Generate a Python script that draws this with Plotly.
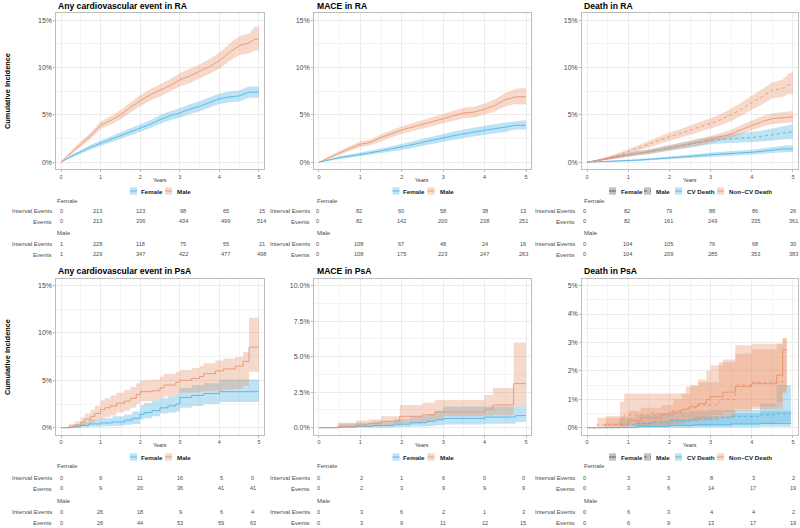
import plotly.graph_objects as go

# ---------------- data (cumulative incidence in %) ----------------
T_RA = [0, 0.25, 0.5, 0.75, 1, 1.25, 1.5, 1.75, 2, 2.25, 2.5, 2.75, 3, 3.25, 3.5, 3.75, 4, 4.25, 4.5, 4.75, 4.9, 5]

# Any cardiovascular event in RA
RA_ANY_M_EST = [0, 1.0, 1.9, 2.8, 3.9, 4.4, 5.0, 5.8, 6.5, 7.1, 7.6, 8.1, 8.7, 9.1, 9.6, 10.1, 10.7, 11.6, 12.3, 12.6, 13.0, 13.0]
RA_ANY_M_LO = [0, 0.8, 1.6, 2.45, 3.5, 3.95, 4.5, 5.25, 5.9, 6.5, 6.95, 7.45, 8.0, 8.35, 8.85, 9.3, 9.85, 10.7, 11.3, 11.5, 11.8, 11.8]
RA_ANY_M_HI = [0, 1.2, 2.2, 3.15, 4.3, 4.85, 5.5, 6.35, 7.1, 7.7, 8.25, 8.75, 9.4, 9.85, 10.35, 10.9, 11.55, 12.5, 13.3, 13.6, 14.3, 14.3]
RA_ANY_F_EST = [0, 0.6, 1.1, 1.6, 2.0, 2.4, 2.8, 3.2, 3.6, 4.0, 4.5, 4.9, 5.2, 5.6, 5.9, 6.3, 6.7, 6.9, 7.0, 7.4, 7.4, 7.4]
RA_ANY_F_LO = [0, 0.45, 0.9, 1.35, 1.7, 2.08, 2.45, 2.83, 3.2, 3.58, 4.05, 4.43, 4.7, 5.08, 5.37, 5.75, 6.15, 6.33, 6.42, 6.8, 6.8, 6.8]
RA_ANY_F_HI = [0, 0.75, 1.3, 1.85, 2.3, 2.72, 3.15, 3.57, 4.0, 4.42, 4.95, 5.37, 5.7, 6.12, 6.43, 6.85, 7.25, 7.47, 7.58, 8.0, 8.0, 8.0]

# MACE in RA
RA_MACE_M_EST = [0, 0.5, 1.0, 1.45, 1.9, 2.1, 2.6, 3.0, 3.4, 3.7, 4.0, 4.3, 4.6, 4.9, 5.2, 5.3, 5.6, 6.0, 6.6, 6.9, 6.9, 6.9]
RA_MACE_M_LO = [0, 0.35, 0.8, 1.2, 1.6, 1.8, 2.25, 2.62, 3.0, 3.28, 3.55, 3.83, 4.1, 4.37, 4.65, 4.73, 5.0, 5.35, 5.9, 6.15, 6.1, 6.1]
RA_MACE_M_HI = [0, 0.65, 1.2, 1.7, 2.2, 2.4, 2.95, 3.38, 3.8, 4.12, 4.45, 4.77, 5.1, 5.43, 5.75, 5.87, 6.2, 6.65, 7.3, 7.75, 7.85, 7.85]
RA_MACE_F_EST = [0, 0.25, 0.5, 0.65, 0.8, 1.0, 1.2, 1.4, 1.6, 1.85, 2.1, 2.35, 2.6, 2.8, 3.0, 3.2, 3.4, 3.55, 3.7, 3.9, 3.9, 3.9]
RA_MACE_F_LO = [0, 0.15, 0.35, 0.48, 0.6, 0.77, 0.95, 1.12, 1.3, 1.52, 1.75, 1.97, 2.2, 2.37, 2.55, 2.73, 2.93, 3.06, 3.2, 3.45, 3.45, 3.45]
RA_MACE_F_HI = [0, 0.35, 0.65, 0.82, 1.0, 1.23, 1.45, 1.68, 1.9, 2.18, 2.45, 2.73, 3.0, 3.23, 3.45, 3.67, 3.87, 4.04, 4.2, 4.35, 4.4, 4.4]

# Death in RA
RA_NCV_M_EST = [0, 0.2, 0.4, 0.75, 1.1, 1.5, 1.9, 2.3, 2.7, 3.0, 3.4, 3.75, 4.1, 4.5, 5.0, 5.6, 6.3, 6.9, 7.6, 7.8, 8.2, 8.2]
RA_NCV_M_LO = [0, 0.1, 0.25, 0.55, 0.85, 1.2, 1.55, 1.92, 2.27, 2.55, 2.9, 3.22, 3.55, 3.9, 4.35, 4.9, 5.55, 6.1, 6.75, 6.9, 7.2, 7.2]
RA_NCV_M_HI = [0, 0.3, 0.55, 0.95, 1.35, 1.8, 2.25, 2.68, 3.13, 3.45, 3.9, 4.28, 4.65, 5.1, 5.65, 6.3, 7.05, 7.7, 8.45, 8.7, 9.4, 9.5]
RA_NCV_F_EST = [0, 0.2, 0.4, 0.6, 0.8, 0.95, 1.1, 1.3, 1.5, 1.7, 1.9, 2.15, 2.4, 2.7, 3.0, 3.45, 3.9, 4.3, 4.6, 4.7, 4.8, 4.8]
RA_NCV_F_LO = [0, 0.1, 0.25, 0.42, 0.6, 0.73, 0.86, 1.04, 1.22, 1.4, 1.58, 1.8, 2.03, 2.3, 2.57, 2.98, 3.4, 3.75, 4.03, 4.12, 4.2, 4.2]
RA_NCV_F_HI = [0, 0.3, 0.55, 0.78, 1.0, 1.17, 1.34, 1.56, 1.78, 2.0, 2.22, 2.5, 2.77, 3.1, 3.43, 3.92, 4.4, 4.85, 5.17, 5.3, 5.4, 5.4]
RA_CV_M_EST = [0, 0.2, 0.4, 0.6, 0.8, 0.95, 1.1, 1.3, 1.5, 1.7, 1.9, 2.1, 2.3, 2.4, 2.5, 2.55, 2.6, 2.75, 2.9, 3.1, 3.2, 3.2]
RA_CV_M_LO = [0, 0.1, 0.25, 0.42, 0.6, 0.73, 0.86, 1.04, 1.22, 1.4, 1.57, 1.74, 1.9, 1.98, 2.05, 2.08, 2.1, 2.2, 2.3, 2.45, 2.5, 2.5]
RA_CV_M_HI = [0, 0.3, 0.55, 0.78, 1.0, 1.17, 1.34, 1.56, 1.78, 2.0, 2.23, 2.46, 2.7, 2.82, 2.95, 3.05, 3.15, 3.35, 3.55, 3.8, 3.95, 4.0]
RA_CV_F_EST = [0, 0.03, 0.07, 0.1, 0.15, 0.22, 0.3, 0.37, 0.45, 0.52, 0.6, 0.7, 0.8, 0.85, 0.9, 0.97, 1.05, 1.15, 1.3, 1.4, 1.4, 1.4]
RA_CV_F_LO = [0, 0.0, 0.02, 0.04, 0.07, 0.12, 0.18, 0.24, 0.3, 0.36, 0.42, 0.5, 0.58, 0.62, 0.66, 0.72, 0.78, 0.86, 0.98, 1.07, 1.07, 1.07]
RA_CV_F_HI = [0, 0.07, 0.12, 0.17, 0.23, 0.32, 0.42, 0.5, 0.6, 0.68, 0.78, 0.9, 1.02, 1.08, 1.14, 1.22, 1.32, 1.45, 1.62, 1.75, 1.78, 1.8]

# Any cardiovascular event in PsA (step functions)
PSA_ANY_M_T = [0, 0.2, 0.35, 0.5, 0.6, 0.75, 0.85, 1.0, 1.1, 1.25, 1.4, 1.6, 1.75, 1.9, 2.0, 2.3, 2.5, 2.6, 2.9, 3.0, 3.3, 3.5, 3.6, 3.9, 4.1, 4.4, 4.6, 4.75, 5.0]
PSA_ANY_M_EST = [0, 0.15, 0.3, 0.6, 0.9, 1.2, 1.5, 1.9, 2.1, 2.3, 2.6, 2.8, 3.1, 3.5, 3.8, 3.9, 4.2, 4.5, 4.8, 5.0, 5.2, 5.4, 5.7, 6.0, 6.2, 6.5, 7.0, 8.5, 8.5]
PSA_ANY_M_LO = [0, 0.0, 0.05, 0.2, 0.35, 0.55, 0.75, 0.95, 1.1, 1.3, 1.6, 1.8, 2.1, 2.5, 2.8, 2.9, 3.1, 3.3, 3.5, 3.7, 3.75, 3.8, 3.85, 3.9, 4.0, 4.1, 4.4, 5.9, 5.9]
PSA_ANY_M_HI = [0, 0.4, 0.65, 1.1, 1.5, 1.9, 2.3, 2.9, 3.1, 3.4, 3.7, 4.0, 4.3, 4.7, 5.0, 5.1, 5.4, 5.7, 5.9, 6.1, 6.3, 6.5, 6.8, 7.1, 7.3, 7.5, 8.0, 11.6, 11.6]
PSA_ANY_F_T = [0, 0.3, 0.5, 0.7, 1.0, 1.3, 1.6, 1.8, 2.0, 2.1, 2.3, 2.5, 2.7, 2.9, 3.0, 3.3, 3.6, 4.0, 5.0]
PSA_ANY_F_EST = [0, 0.1, 0.25, 0.4, 0.5, 0.6, 0.8, 1.0, 1.4, 1.6, 1.8, 2.1, 2.3, 2.5, 3.2, 3.4, 3.6, 3.8, 3.8]
PSA_ANY_F_LO = [0, 0.0, 0.05, 0.1, 0.15, 0.2, 0.3, 0.4, 0.9, 1.0, 1.2, 1.5, 1.6, 1.7, 2.1, 2.3, 2.5, 2.7, 2.7]
PSA_ANY_F_HI = [0, 0.3, 0.6, 0.85, 1.0, 1.2, 1.4, 1.7, 2.4, 2.6, 2.9, 3.1, 3.3, 3.5, 4.2, 4.5, 4.7, 5.1, 5.1]

# MACE in PsA
PSA_MACE_M_T = [0, 0.45, 0.9, 1.2, 1.5, 1.95, 2.5, 2.8, 3.0, 3.9, 4.0, 4.2, 4.7, 5.0]
PSA_MACE_M_EST = [0, 0.1, 0.2, 0.3, 0.45, 0.8, 0.9, 1.1, 1.1, 1.1, 1.3, 1.6, 3.1, 3.1]
PSA_MACE_M_LO = [0, 0.01, 0.05, 0.08, 0.15, 0.3, 0.4, 0.55, 0.8, 0.8, 0.85, 0.9, 1.5, 1.5]
PSA_MACE_M_HI = [0, 0.35, 0.5, 0.6, 0.8, 1.6, 1.75, 1.95, 1.95, 1.95, 2.3, 2.8, 6.0, 6.0]
PSA_MACE_F_T = [0, 0.5, 0.9, 1.3, 1.8, 2.2, 2.6, 2.8, 3.0, 4.0, 4.75, 5.0]
PSA_MACE_F_EST = [0, 0.05, 0.1, 0.15, 0.25, 0.35, 0.45, 0.55, 0.65, 0.75, 0.85, 0.85]
PSA_MACE_F_LO = [0, 0.0, 0.01, 0.02, 0.05, 0.08, 0.12, 0.17, 0.22, 0.28, 0.4, 0.4]
PSA_MACE_F_HI = [0, 0.3, 0.35, 0.45, 0.6, 0.8, 0.95, 1.2, 1.5, 1.5, 1.5, 1.5]

# Death in PsA
PSA_NCV_M_T = [0, 0.25, 0.8, 0.9, 1.5, 2.0, 2.4, 2.7, 3.2, 3.6, 4.0, 4.6, 4.75, 4.85]
PSA_NCV_M_EST = [0, 0.1, 0.3, 0.45, 0.5, 0.6, 0.7, 0.8, 1.0, 1.5, 1.6, 1.6, 2.65, 2.65]
PSA_NCV_M_LO = [0, 0.0, 0.04, 0.08, 0.1, 0.15, 0.2, 0.25, 0.35, 0.6, 0.65, 0.65, 1.2, 1.2]
PSA_NCV_M_HI = [0, 0.35, 0.9, 1.2, 1.2, 1.2, 1.45, 1.6, 2.3, 2.9, 2.95, 2.95, 3.15, 3.15]
PSA_NCV_F_T = [0, 0.45, 1.0, 1.3, 1.8, 2.1, 2.3, 2.5, 2.7, 2.9, 3.0, 3.3, 3.6, 4.0, 4.6, 4.75, 4.85]
PSA_NCV_F_EST = [0, 0.12, 0.25, 0.35, 0.45, 0.55, 0.65, 0.75, 0.85, 1.0, 1.1, 1.25, 1.45, 1.55, 1.85, 2.75, 2.75]
PSA_NCV_F_LO = [0, 0.0, 0.03, 0.06, 0.1, 0.15, 0.2, 0.25, 0.3, 0.38, 0.45, 0.55, 0.65, 0.75, 0.9, 1.3, 1.3]
PSA_NCV_F_HI = [0, 0.4, 0.6, 0.7, 0.8, 1.0, 1.2, 1.5, 1.7, 2.0, 2.2, 2.4, 2.6, 2.75, 2.95, 3.15, 3.15]
PSA_CV_M_T = [0, 0.8, 1.2, 1.6, 2.0, 2.5, 3.0, 3.5, 4.2, 4.6, 4.95]
PSA_CV_M_EST = [0, 0.1, 0.15, 0.2, 0.25, 0.3, 0.35, 0.4, 0.45, 0.5, 0.5]
PSA_CV_M_LO = [0, 0.0, 0.02, 0.03, 0.05, 0.07, 0.1, 0.12, 0.15, 0.18, 0.18]
PSA_CV_M_HI = [0, 0.35, 0.45, 0.5, 0.55, 0.6, 0.62, 0.62, 0.85, 1.5, 1.5]
PSA_CV_F_T = [0, 1.2, 2.0, 2.6, 3.5, 4.2, 4.95]
PSA_CV_F_EST = [0, 0.05, 0.08, 0.1, 0.13, 0.15, 0.15]
PSA_CV_F_LO = [0, 0.0, 0.0, 0.01, 0.02, 0.03, 0.03]
PSA_CV_F_HI = [0, 0.2, 0.3, 0.4, 0.5, 0.6, 0.6]

# Risk-table counts
RA_ANY_F_INT = [0, 213, 123, 98, 65, 15]
RA_ANY_F_EV = [0, 213, 336, 434, 499, 514]
RA_ANY_M_INT = [1, 228, 118, 75, 55, 21]
RA_ANY_M_EV = [1, 229, 347, 422, 477, 498]
RA_MACE_F_INT = [0, 82, 60, 58, 38, 13]
RA_MACE_F_EV = [0, 82, 142, 200, 238, 251]
RA_MACE_M_INT = [0, 108, 67, 48, 24, 16]
RA_MACE_M_EV = [0, 108, 175, 223, 247, 263]
RA_DEATH_F_INT = [0, 82, 79, 88, 86, 26]
RA_DEATH_F_EV = [0, 82, 161, 249, 335, 361]
RA_DEATH_M_INT = [0, 104, 105, 76, 68, 30]
RA_DEATH_M_EV = [0, 104, 209, 285, 353, 383]
PSA_ANY_F_INT = [0, 9, 11, 16, 5, 0]
PSA_ANY_F_EV = [0, 9, 20, 36, 41, 41]
PSA_ANY_M_INT = [0, 26, 18, 9, 6, 4]
PSA_ANY_M_EV = [0, 26, 44, 53, 59, 63]
PSA_MACE_F_INT = [0, 2, 1, 6, 0, 0]
PSA_MACE_F_EV = [0, 2, 3, 9, 9, 9]
PSA_MACE_M_INT = [0, 3, 6, 2, 1, 3]
PSA_MACE_M_EV = [0, 3, 9, 11, 12, 15]
PSA_DEATH_F_INT = [0, 3, 3, 8, 3, 2]
PSA_DEATH_F_EV = [0, 3, 6, 14, 17, 19]
PSA_DEATH_M_INT = [0, 6, 3, 4, 4, 2]
PSA_DEATH_M_EV = [0, 6, 9, 13, 17, 19]

TITLES = ["Any cardiovascular event in RA", "MACE in RA", "Death in RA",
          "Any cardiovascular event in PsA", "MACE in PsA", "Death in PsA"]
YEAR_TICKS = [0, 1, 2, 3, 4, 5]

# ---------------- style ----------------
W, H = 800, 528
FONT = "Liberation Sans, Arial, Helvetica, sans-serif"
BLUE = "#55B5E3"
BLUE_FILL = "rgba(85,181,227,0.38)"
ORANGE = "#E9956F"
ORANGE_FILL = "rgba(233,149,111,0.36)"
GRAY_FILL = "rgba(120,120,120,0.45)"
GRID = "#EBEBEB"
MINOR = "#F4F4F4"
BORDER = "#BDBDBD"
TXT = "#4D4D4D"


def px(x):
    return x / W


def py(y):
    return 1 - y / H


fig = go.Figure()


def ax_names(i):
    return ("x" if i == 1 else f"x{i}"), ("y" if i == 1 else f"y{i}")


def add_ribbon(i, t, lo, hi, fill, shape):
    xa, ya = ax_names(i)
    fig.add_trace(go.Scatter(x=t, y=lo, mode="lines", line=dict(width=0, shape=shape),
                             xaxis=xa, yaxis=ya, showlegend=False, hoverinfo="skip"))
    fig.add_trace(go.Scatter(x=t, y=hi, mode="lines", line=dict(width=0, shape=shape),
                             fill="tonexty", fillcolor=fill,
                             xaxis=xa, yaxis=ya, showlegend=False, hoverinfo="skip"))


def add_line(i, t, est, color, dash, shape):
    xa, ya = ax_names(i)
    fig.add_trace(go.Scatter(x=t, y=est, mode="lines",
                             line=dict(color=color, width=0.9, dash=dash, shape=shape),
                             xaxis=xa, yaxis=ya, showlegend=False, hoverinfo="skip"))


# Panel 1: Any CV RA
add_ribbon(1, T_RA, RA_ANY_F_LO, RA_ANY_F_HI, BLUE_FILL, "linear")
add_ribbon(1, T_RA, RA_ANY_M_LO, RA_ANY_M_HI, ORANGE_FILL, "linear")
add_line(1, T_RA, RA_ANY_F_EST, BLUE, "solid", "linear")
add_line(1, T_RA, RA_ANY_M_EST, ORANGE, "solid", "linear")
# Panel 2: MACE RA
add_ribbon(2, T_RA, RA_MACE_F_LO, RA_MACE_F_HI, BLUE_FILL, "linear")
add_ribbon(2, T_RA, RA_MACE_M_LO, RA_MACE_M_HI, ORANGE_FILL, "linear")
add_line(2, T_RA, RA_MACE_F_EST, BLUE, "solid", "linear")
add_line(2, T_RA, RA_MACE_M_EST, ORANGE, "solid", "linear")
# Panel 3: Death RA
add_ribbon(3, T_RA, RA_CV_F_LO, RA_CV_F_HI, BLUE_FILL, "linear")
add_ribbon(3, T_RA, RA_CV_M_LO, RA_CV_M_HI, BLUE_FILL, "linear")
add_ribbon(3, T_RA, RA_NCV_F_LO, RA_NCV_F_HI, ORANGE_FILL, "linear")
add_ribbon(3, T_RA, RA_NCV_M_LO, RA_NCV_M_HI, ORANGE_FILL, "linear")
add_line(3, T_RA, RA_CV_F_EST, BLUE, "solid", "linear")
add_line(3, T_RA, RA_CV_M_EST, BLUE, "dot", "linear")
add_line(3, T_RA, RA_NCV_F_EST, ORANGE, "solid", "linear")
add_line(3, T_RA, RA_NCV_M_EST, ORANGE, "dot", "linear")
# Panel 4: Any CV PsA
add_ribbon(4, PSA_ANY_F_T, PSA_ANY_F_LO, PSA_ANY_F_HI, BLUE_FILL, "hv")
add_ribbon(4, PSA_ANY_M_T, PSA_ANY_M_LO, PSA_ANY_M_HI, ORANGE_FILL, "hv")
add_line(4, PSA_ANY_F_T, PSA_ANY_F_EST, BLUE, "solid", "hv")
add_line(4, PSA_ANY_M_T, PSA_ANY_M_EST, ORANGE, "solid", "hv")
# Panel 5: MACE PsA
add_ribbon(5, PSA_MACE_F_T, PSA_MACE_F_LO, PSA_MACE_F_HI, BLUE_FILL, "hv")
add_ribbon(5, PSA_MACE_M_T, PSA_MACE_M_LO, PSA_MACE_M_HI, ORANGE_FILL, "hv")
add_line(5, PSA_MACE_F_T, PSA_MACE_F_EST, BLUE, "solid", "hv")
add_line(5, PSA_MACE_M_T, PSA_MACE_M_EST, ORANGE, "solid", "hv")
# Panel 6: Death PsA
add_ribbon(6, PSA_CV_F_T, PSA_CV_F_LO, PSA_CV_F_HI, BLUE_FILL, "hv")
add_ribbon(6, PSA_CV_M_T, PSA_CV_M_LO, PSA_CV_M_HI, BLUE_FILL, "hv")
add_ribbon(6, PSA_NCV_F_T, PSA_NCV_F_LO, PSA_NCV_F_HI, ORANGE_FILL, "hv")
add_ribbon(6, PSA_NCV_M_T, PSA_NCV_M_LO, PSA_NCV_M_HI, ORANGE_FILL, "hv")
add_line(6, PSA_CV_F_T, PSA_CV_F_EST, BLUE, "solid", "hv")
add_line(6, PSA_CV_M_T, PSA_CV_M_EST, BLUE, "dot", "hv")
add_line(6, PSA_NCV_F_T, PSA_NCV_F_EST, ORANGE, "solid", "hv")
add_line(6, PSA_NCV_M_T, PSA_NCV_M_EST, ORANGE, "dot", "hv")

# ---------------- axes ----------------
X_DOM = [(56.3, 263.7), (314.0, 531.0), (582.1, 797.9)]
Y_DOM_TOP = (13.1, 169.3)
Y_DOM_BOT = (278.5, 434.8)
Y_SPECS = [  # range, dtick, minor dtick, tickformat
    ([-0.75, 15.75], 5, 2.5, "d"),
    ([-0.75, 15.75], 5, 2.5, "d"),
    ([-0.75, 15.75], 5, 2.5, "d"),
    ([-0.75, 15.75], 5, 2.5, "d"),
    ([-0.5, 10.5], 2.5, 1.25, ".1f"),
    ([-0.25, 5.25], 1, 0.5, "d"),
]

layout = {}
for i in range(1, 7):
    col = (i - 1) % 3
    xd = X_DOM[col]
    yd = Y_DOM_TOP if i <= 3 else Y_DOM_BOT
    sfx = "" if i == 1 else str(i)
    yr, dt, mdt, fmt = Y_SPECS[i - 1]
    layout["xaxis" + sfx] = dict(
        domain=[px(xd[0]), px(xd[1])], range=[-0.12, 5.12], anchor="y" + sfx,
        tickmode="array", tickvals=YEAR_TICKS, ticktext=[str(v) for v in YEAR_TICKS],
        tickfont=dict(size=5.5, color=TXT, family=FONT),
        showgrid=True, gridcolor=GRID, gridwidth=0.7,
        minor=dict(tickmode="linear", tick0=0, dtick=0.5, showgrid=True, gridcolor=MINOR, gridwidth=0.6),
        showline=True, mirror=True, linecolor=BORDER, linewidth=0.8,
        ticks="outside", ticklen=2, tickcolor=BORDER, tickwidth=0.7,
        zeroline=False, fixedrange=True,
    )
    layout["yaxis" + sfx] = dict(
        domain=[py(yd[1]), py(yd[0])], range=yr, anchor="x" + sfx,
        tickmode="linear", tick0=0, dtick=dt, tickformat=fmt, ticksuffix="%",
        tickfont=dict(size=7, color=TXT, family=FONT),
        showgrid=True, gridcolor=GRID, gridwidth=0.7,
        minor=dict(tickmode="linear", tick0=0, dtick=mdt, showgrid=True, gridcolor=MINOR, gridwidth=0.6),
        showline=True, mirror=True, linecolor=BORDER, linewidth=0.8,
        ticks="outside", ticklen=2, tickcolor=BORDER, tickwidth=0.7,
        zeroline=False, fixedrange=True,
    )

annotations = []
shapes = []


def text(x, y, s, size, xanchor="center", bold=False, color=TXT, angle=0):
    annotations.append(dict(
        x=px(x), y=py(y), xref="paper", yref="paper", text=("<b>%s</b>" % s) if bold else s,
        showarrow=False, xanchor=xanchor, yanchor="middle", textangle=angle,
        font=dict(size=size, color=color, family=FONT)))


# titles
TITLE_POS = [(56, 6), (315, 6), (582, 6), (56, 271), (315, 271), (582, 271)]
for (tx, ty), t in zip(TITLE_POS, TITLES):
    text(tx, ty, t, 8.6, xanchor="left", bold=True, color="#000000")

# y titles
text(7, 91, "Cumulative Incidence", 7.4, bold=True, color="#000000", angle=-90)
text(7, 357, "Cumulative Incidence", 7.4, bold=True, color="#000000", angle=-90)

# x titles
for col in range(3):
    cx = (X_DOM[col][0] + X_DOM[col][1]) / 2
    text(cx, 179.5, "Years", 5.3, color="#333333")
    text(cx, 444.5, "Years", 5.3, color="#333333")


# legends
def legend(cx, cy, items):
    if len(items) == 2:
        offs = [(-30, -21), (5, 15)]
    else:
        offs = [(-81, -71), (-46, -36), (-15, -5), (27, 37)]
    for (bo, to), (label, fill, lcol, dash) in zip(offs, items):
        x0 = cx + bo
        shapes.append(dict(type="rect", xref="paper", yref="paper",
                           x0=px(x0), x1=px(x0 + 7), y0=py(cy + 3.7), y1=py(cy - 3.7),
                           fillcolor=fill, line=dict(width=0)))
        shapes.append(dict(type="line", xref="paper", yref="paper",
                           x0=px(x0), x1=px(x0 + 7), y0=py(cy), y1=py(cy),
                           line=dict(color=lcol, width=0.9, dash=dash)))
        text(cx + to, cy, label, 6.2, xanchor="left", bold=True, color="#1A1A1A")


SEX_ITEMS = [("Female", BLUE_FILL, BLUE, "solid"), ("Male", ORANGE_FILL, ORANGE, "solid")]
DEATH_ITEMS = [("Female", GRAY_FILL, "#555555", "solid"), ("Male", GRAY_FILL, "#555555", "dot"),
               ("CV Death", BLUE_FILL, BLUE, "solid"), ("Non\u2013CV Death", ORANGE_FILL, ORANGE, "solid")]
for row_y in (191, 457):
    legend(160, row_y, SEX_ITEMS)
    legend(422.5, row_y, SEX_ITEMS)
    legend(690, row_y, DEATH_ITEMS)


# risk tables
def table(cols, label_right, name_left, rows_y, f_int, f_ev, m_int, m_ev):
    text(name_left, rows_y[0], "Female", 6.1, xanchor="left")
    text(name_left, rows_y[3], "Male", 6.1, xanchor="left")
    for ry, lab, vals in ((rows_y[1], "Interval Events", f_int), (rows_y[2], "Events", f_ev),
                          (rows_y[4], "Interval Events", m_int), (rows_y[5], "Events", m_ev)):
        text(label_right, ry, lab, 6.1, xanchor="right")
        for cxp, v in zip(cols, vals):
            text(cxp, ry, str(v), 5.6)


TOP_ROWS = [200, 210.7, 221, 232.7, 243.7, 254.3]
BOT_ROWS = [465, 477.7, 488.3, 500, 511.7, 522.7]
table([61, 97.5, 140, 183, 226, 261.5], 53.5, 55, TOP_ROWS, RA_ANY_F_INT, RA_ANY_F_EV, RA_ANY_M_INT, RA_ANY_M_EV)
table([317, 358.5, 401, 442.5, 485, 523], 311.5, 315, TOP_ROWS, RA_MACE_F_INT, RA_MACE_F_EV, RA_MACE_M_INT, RA_MACE_M_EV)
table([584, 627, 668.5, 712, 755, 793], 577, 582, TOP_ROWS, RA_DEATH_F_INT, RA_DEATH_F_EV, RA_DEATH_M_INT, RA_DEATH_M_EV)
table([61, 100, 140, 180, 221, 253], 53.5, 55, BOT_ROWS, PSA_ANY_F_INT, PSA_ANY_F_EV, PSA_ANY_M_INT, PSA_ANY_M_EV)
table([318, 361, 402, 443, 485, 523], 311.5, 315, BOT_ROWS, PSA_MACE_F_INT, PSA_MACE_F_EV, PSA_MACE_M_INT, PSA_MACE_M_EV)
table([584, 628, 668.5, 711, 753, 793], 577, 582, BOT_ROWS, PSA_DEATH_F_INT, PSA_DEATH_F_EV, PSA_DEATH_M_INT, PSA_DEATH_M_EV)

fig.update_layout(
    width=W, height=H, margin=dict(l=0, r=0, t=0, b=0),
    paper_bgcolor="white", plot_bgcolor="white",
    showlegend=False, font=dict(family=FONT, color=TXT),
    annotations=annotations, shapes=shapes, **layout,
)

fig.write_html("out.html")
